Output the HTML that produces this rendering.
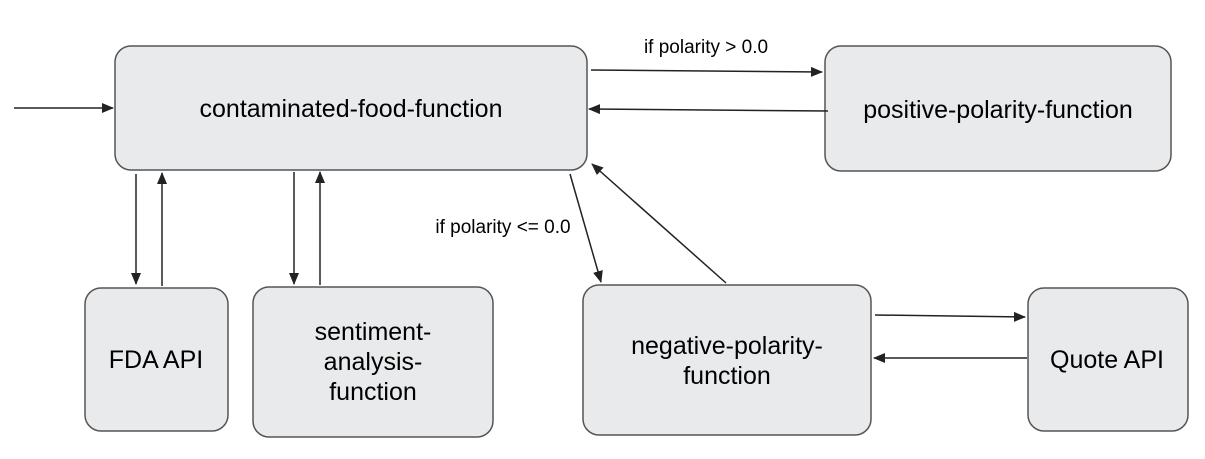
<!DOCTYPE html>
<html><head><style>
html,body{margin:0;padding:0;background:#fff;}
svg{display:block;}
.b{fill:#e8eaeb;stroke:#555;stroke-width:1.5;}
.t{font-family:"Liberation Sans",sans-serif;font-size:25px;fill:#000;text-anchor:middle;}
.l{font-family:"Liberation Sans",sans-serif;font-size:19px;fill:#000;text-anchor:middle;}
.a{stroke:#222;stroke-width:1.5;fill:none;marker-end:url(#m);}
</style></head><body>
<svg width="1205" height="459" viewBox="0 0 1205 459">
<defs><marker id="m" markerWidth="12" markerHeight="10" refX="11" refY="5" orient="auto" markerUnits="userSpaceOnUse"><path d="M0,0 L12,5 L0,10 Z" fill="#222"/></marker></defs>
<rect class="b" x="115" y="46" width="472" height="124" rx="16"/>
<rect class="b" x="825" y="46" width="346" height="125" rx="16"/>
<rect class="b" x="85" y="288" width="143" height="143" rx="16"/>
<rect class="b" x="253" y="287" width="240" height="150" rx="16"/>
<rect class="b" x="583" y="285" width="288" height="150" rx="16"/>
<rect class="b" x="1028" y="288" width="160" height="143" rx="16"/>
<text class="t" x="351" y="117">contaminated-food-function</text>
<text class="t" x="998" y="118">positive-polarity-function</text>
<text class="t" x="156" y="368">FDA API</text>
<text class="t" x="373" y="340">sentiment-</text>
<text class="t" x="373" y="370">analysis-</text>
<text class="t" x="373" y="400">function</text>
<text class="t" x="727" y="354">negative-polarity-</text>
<text class="t" x="727" y="384">function</text>
<text class="t" x="1107" y="368">Quote API</text>
<text class="l" x="706" y="53">if polarity &gt; 0.0</text>
<text class="l" x="503" y="233">if polarity &lt;= 0.0</text>
<line class="a" x1="14" y1="108" x2="113" y2="108"/>
<line class="a" x1="591" y1="70" x2="822" y2="72"/>
<line class="a" x1="828" y1="111" x2="589" y2="109"/>
<line class="a" x1="136" y1="174" x2="136" y2="284"/>
<line class="a" x1="162" y1="286" x2="162" y2="173"/>
<line class="a" x1="294" y1="172" x2="294" y2="284"/>
<line class="a" x1="320" y1="285" x2="320" y2="172"/>
<line class="a" x1="570" y1="174" x2="601" y2="282"/>
<line class="a" x1="726" y1="283" x2="592" y2="164"/>
<line class="a" x1="875" y1="315" x2="1025" y2="317"/>
<line class="a" x1="1027" y1="358" x2="874" y2="358"/>
</svg>
</body></html>
